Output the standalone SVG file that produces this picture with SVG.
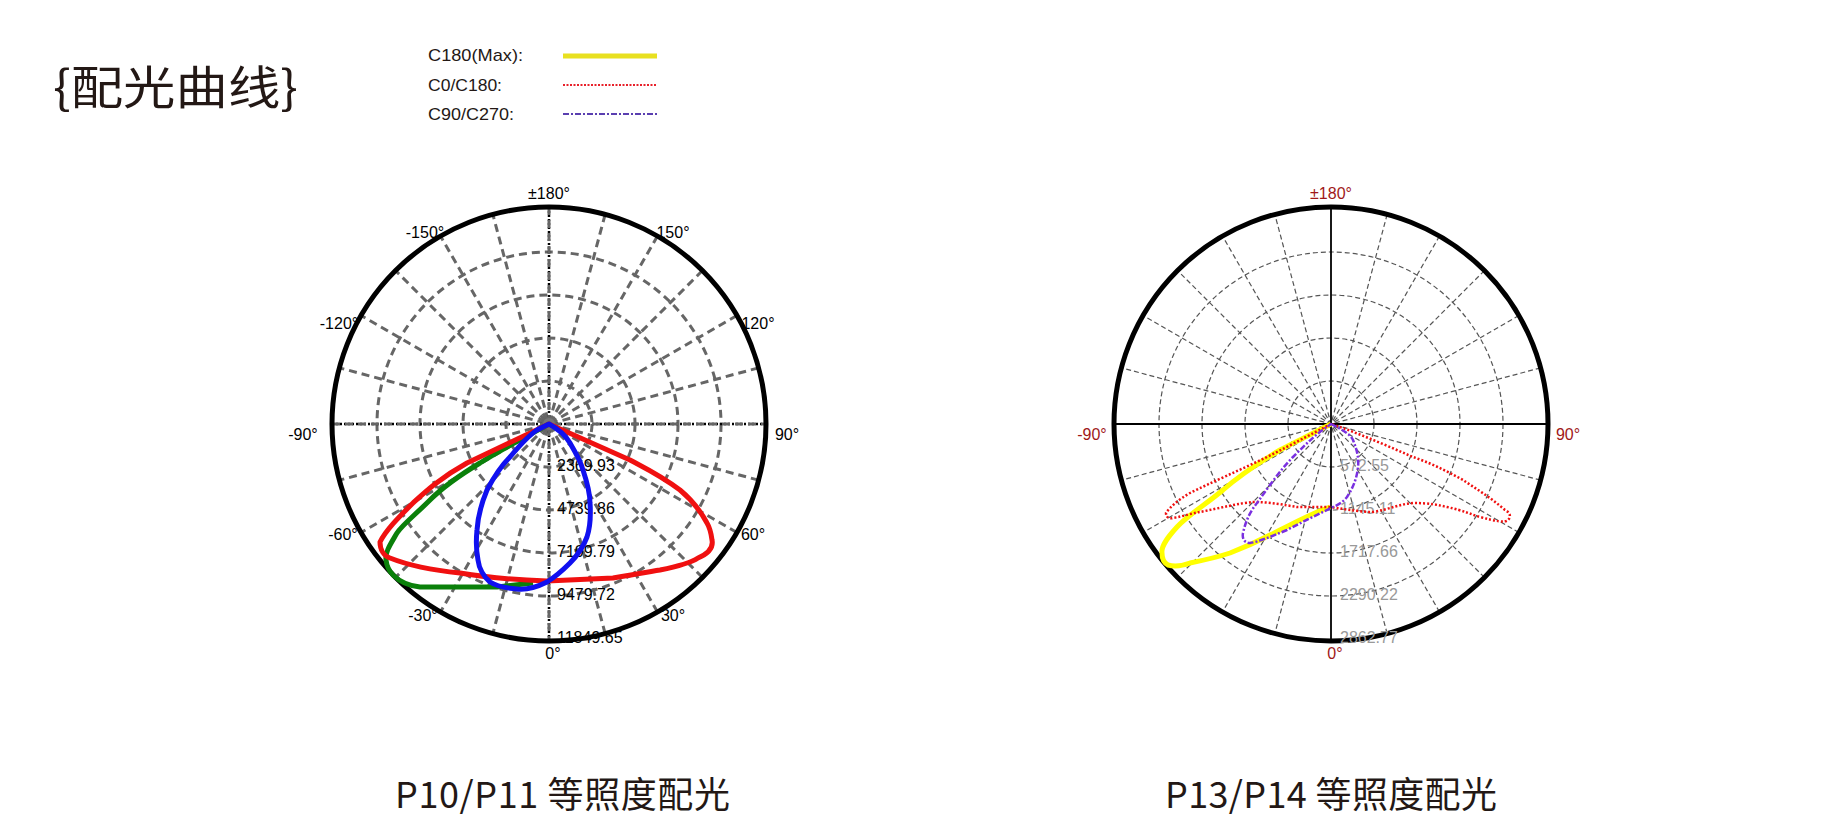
<svg xmlns="http://www.w3.org/2000/svg" xmlns:xlink="http://www.w3.org/1999/xlink" width="1831" height="825" viewBox="0 0 1831 825">
<style>
.t{font-family:"Liberation Sans",Arial,sans-serif;font-size:16px;fill:#000}
.g{fill:#999}
.r{fill:#a01818}
.cjk{font-family:"Noto Sans CJK SC",sans-serif;fill:#231815}
.lg{font-family:"Liberation Sans",Arial,sans-serif;font-size:17px;fill:#231815}
.gl{fill:none;stroke:#666;stroke-width:3;stroke-dasharray:8 5}
.gr{fill:none;stroke:#555;stroke-width:1.2;stroke-dasharray:5 3}
.outer{fill:none;stroke:#000;stroke-width:5}
</style>
<defs>
<line id="rad" x1="0" y1="-217" x2="0" y2="217"/>
</defs>
<rect width="1831" height="825" fill="#fff"/>
<text class="cjk" x="53" y="104" font-size="46" textLength="245" lengthAdjust="spacingAndGlyphs">{配光曲线}</text>
<g id="legend">
<text class="lg" x="428" y="61" textLength="95" lengthAdjust="spacingAndGlyphs">C180(Max):</text>
<text class="lg" x="428" y="91" textLength="74" lengthAdjust="spacingAndGlyphs">C0/C180:</text>
<text class="lg" x="428" y="120" textLength="86" lengthAdjust="spacingAndGlyphs">C90/C270:</text>
<line x1="563" y1="56" x2="657" y2="56" stroke="#e8e020" stroke-width="5"/>
<line x1="563" y1="85" x2="657" y2="85" stroke="#e8202a" stroke-width="2" stroke-dasharray="2 1.5"/>
<line x1="563" y1="114" x2="657" y2="114" stroke="#5a3fb0" stroke-width="2" stroke-dasharray="6 2 2 2"/>
</g>
<g id="plot1" transform="translate(549,424)">
<g class="gl">
<circle r="43"/><circle r="86"/><circle r="129"/><circle r="172"/>
<use xlink:href="#rad" transform="rotate(15)"/><use xlink:href="#rad" transform="rotate(30)"/><use xlink:href="#rad" transform="rotate(45)"/><use xlink:href="#rad" transform="rotate(60)"/><use xlink:href="#rad" transform="rotate(75)"/>
<use xlink:href="#rad" transform="rotate(105)"/><use xlink:href="#rad" transform="rotate(120)"/><use xlink:href="#rad" transform="rotate(135)"/><use xlink:href="#rad" transform="rotate(150)"/><use xlink:href="#rad" transform="rotate(165)"/>
</g>
<line x1="0" y1="-217" x2="0" y2="217" stroke="#000" stroke-width="2.5" stroke-dasharray="2 2"/>
<line x1="-217" y1="0" x2="217" y2="0" stroke="#000" stroke-width="2.5" stroke-dasharray="2 2"/>
<line x1="0" y1="-217" x2="0" y2="217" class="gl"/>
<line x1="-217" y1="0" x2="217" y2="0" class="gl"/>
<circle r="6" fill="#777"/>
<circle r="217" class="outer"/>
</g>
<g id="plot1-labels" class="t">
<text x="549" y="199" text-anchor="middle">±180°</text>
<text x="553" y="659" text-anchor="middle">0°</text>
<text x="673" y="238" text-anchor="middle">150°</text>
<text x="425" y="238" text-anchor="middle">-150°</text>
<text x="758" y="329" text-anchor="middle">120°</text>
<text x="339" y="329" text-anchor="middle">-120°</text>
<text x="787" y="440" text-anchor="middle">90°</text>
<text x="303" y="440" text-anchor="middle">-90°</text>
<text x="753" y="540" text-anchor="middle">60°</text>
<text x="343" y="540" text-anchor="middle">-60°</text>
<text x="673" y="621" text-anchor="middle">30°</text>
<text x="423" y="621" text-anchor="middle">-30°</text>
<text x="557" y="471">2369.93</text>
<text x="557" y="514">4739.86</text>
<text x="557" y="557">7109.79</text>
<text x="557" y="600">9479.72</text>
<text x="557" y="643">11849.65</text>
</g>
<g id="curves1" fill="none" stroke-width="5" stroke-linejoin="round">
<path stroke="#0a800a" d="M549,424 C520,440 500,450 480,463 C455,478 440,490 430,500 C415,515 402,525 397,533 C390,545 385,552 386,560 C387,568 390,572 393,575 C400,582 410,586 420,587 L497,587 L533,583"/>
<path stroke="#f01010" d="M549,424 L467,463 C440,478 425,492 413,503 C398,518 386,530 380,542 C380,550 384,556 390,558 C415,568 440,571 460,573 C490,578 520,580 547,581 L613,578 C635,574 648,572 660,570 C680,566 692,562 698,558 C712,552 713,545 712,540 C711,532 710,528 707,523 C700,510 692,500 680,490 C660,475 645,468 630,460 Z"/>
<path stroke="#1010f0" d="M549,424 C560,430 566,436 570,443 C577,455 581,462 583,470 C588,485 590,495 590,503 C591,518 590,528 587,537 C582,550 576,557 570,563 C562,571 555,577 547,582 C535,588 525,590 517,589 C505,588 496,586 490,582 C482,575 479,568 478,560 C476,550 476,540 477,530 C478,515 482,502 487,490 C495,475 502,465 510,457 C520,445 528,436 537,430 Z"/>
</g>
<g id="plot2" transform="translate(1331,424)">
<g class="gr">
<circle r="43"/><circle r="86"/><circle r="129"/><circle r="172"/>
<use xlink:href="#rad" transform="rotate(15)"/><use xlink:href="#rad" transform="rotate(30)"/><use xlink:href="#rad" transform="rotate(45)"/><use xlink:href="#rad" transform="rotate(60)"/><use xlink:href="#rad" transform="rotate(75)"/>
<use xlink:href="#rad" transform="rotate(105)"/><use xlink:href="#rad" transform="rotate(120)"/><use xlink:href="#rad" transform="rotate(135)"/><use xlink:href="#rad" transform="rotate(150)"/><use xlink:href="#rad" transform="rotate(165)"/>
</g>
<line x1="0" y1="-217" x2="0" y2="217" stroke="#000" stroke-width="1.8"/>
<line x1="-217" y1="0" x2="217" y2="0" stroke="#000" stroke-width="1.8"/>
<circle r="217" class="outer"/>
</g>
<g id="plot2-labels" class="t">
<text class="r" x="1331" y="199" text-anchor="middle">±180°</text>
<text class="r" x="1335" y="659" text-anchor="middle">0°</text>
<text class="r" x="1568" y="440" text-anchor="middle">90°</text>
<text class="r" x="1092" y="440" text-anchor="middle">-90°</text>
<text class="g" x="1340" y="471">572.55</text>
<text class="g" x="1340" y="514">1145.11</text>
<text class="g" x="1340" y="557">1717.66</text>
<text class="g" x="1340" y="600">2290.22</text>
<text class="g" x="1340" y="643">2862.77</text>
</g>
<g id="curves2" fill="none" stroke-linejoin="round">
<path stroke="#ffff00" stroke-width="5" d="M1331,424 C1310,435 1295,442 1280,450 C1260,462 1240,475 1223,490 C1205,505 1188,515 1177,527 C1167,538 1161,546 1162,553 C1162,560 1164,563 1168,565 C1175,567 1182,566 1190,563 C1205,560 1218,557 1230,553 C1248,546 1265,538 1280,530 C1300,520 1315,512 1330,507"/>
<path stroke="#f01010" stroke-width="2.5" stroke-dasharray="2 2" d="M1331,424 C1300,440 1285,448 1267,457 C1240,470 1210,483 1190,493 C1178,500 1170,507 1166,513 C1166,518 1170,519 1173,518 C1185,516 1192,513 1200,512 C1220,508 1240,503 1253,502 C1270,502 1285,505 1297,507 L1330,507 C1350,510 1362,512 1373,512 C1390,509 1400,504 1413,503 C1430,503 1438,505 1447,507 C1465,511 1470,514 1480,517 C1495,521 1505,523 1508,520 C1512,516 1509,512 1505,510 C1490,497 1475,488 1463,480 C1445,470 1428,462 1413,457 C1390,447 1365,436 1340,427 Z"/>
<path stroke="#7a30e0" stroke-width="2.5" stroke-dasharray="6 2 2 2" d="M1331,424 C1343,430 1350,434 1353,440 C1357,450 1359,458 1358,467 C1357,478 1353,488 1347,497 C1343,502 1338,505 1333,507 C1315,516 1300,523 1287,530 C1270,537 1258,542 1250,543 C1244,543 1242,538 1243,533 C1246,520 1250,512 1257,503 C1268,488 1280,470 1293,457 C1305,445 1316,434 1327,427 Z"/>
</g>
<text class="cjk" x="395" y="808" font-size="36" textLength="335">P10/P11 等照度配光</text>
<text class="cjk" x="1165" y="808" font-size="36" textLength="332">P13/P14 等照度配光</text>
</svg>
